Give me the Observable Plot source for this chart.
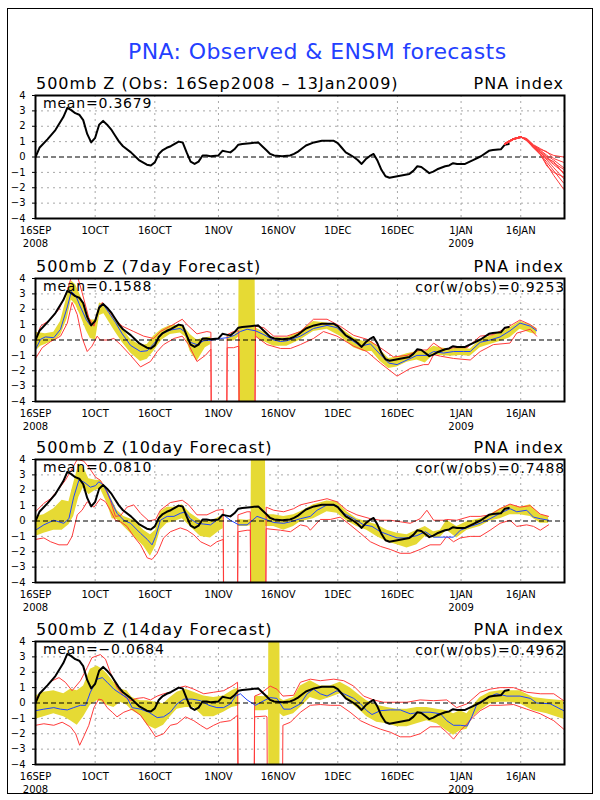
<!DOCTYPE html>
<html><head><meta charset="utf-8">
<script src="https://cdn.jsdelivr.net/npm/d3@7"></script>
<script src="https://cdn.jsdelivr.net/npm/@observablehq/plot@0.6"></script>
<style>
body{margin:0;background:#fff;}
#page{position:relative;width:600px;height:800px;overflow:hidden;font-family:"DejaVu Sans",sans-serif;background:#fff;}
#border{position:absolute;left:7px;top:8px;width:584px;height:784px;border:1px solid #000;}
.t{position:absolute;white-space:nowrap;line-height:1;color:#000;}
.pnl{position:absolute;left:0;}
</style></head><body><div id="page"><div id="border"></div></div>
<script>
// ---------------- data ----------------
const startUTC = Date.UTC(2008, 8, 16);           // 16 Sep 2008 = day 0
const domainDays = [0, 133];
const xTickDays = [0, 15, 30, 46, 61, 76, 91, 107, 122];
const xTickLabels = ["16SEP\n2008", "1OCT", "16OCT", "1NOV", "16NOV", "1DEC", "16DEC", "1JAN\n2009", "16JAN"];
const yTicks = [-4, -3, -2, -1, 0, 1, 2, 3, 4];

const panelTitles = ["500mb Z (Obs: 16Sep2008 \u2013 13Jan2009)", "500mb Z (7day Forecast)", "500mb Z (10day Forecast)", "500mb Z (14day Forecast)"];
const meanLabels = ["mean=0.3679", "mean=0.1588", "mean=0.0810", "mean=\u22120.0684"];
const corLabels = [null, "cor(w/obs)=0.9253", "cor(w/obs)=0.7488", "cor(w/obs)=0.4962"];

// observed PNA index [day, value]
const obs = [[0,0],[1,0.6],[3,1.15],[5,1.75],[7,2.6],[8,3.2],[9,3.05],[10,2.85],[11,2.75],[12,2.4],[13,1.5],[14,0.95],[15,1.25],[16,2.1],[17,2.35],[18,2.1],[19,1.8],[20,1.4],[21,1.0],[22,0.7],[24,0.3],[26,-0.2],[28,-0.5],[29,-0.55],[30,-0.35],[31,0.2],[32,0.45],[33,0.6],[34,0.7],[36,1.0],[37,0.95],[38,0.3],[39,-0.3],[40,-0.45],[41,-0.3],[42,0.1],[43,0.1],[44,0.05],[46,0.1],[47,0.4],[48,0.35],[49,0.3],[50,0.5],[51,0.8],[52,0.85],[54,0.9],[56,0.95],[57,0.7],[58,0.45],[59,0.2],[60,0.1],[62,0.05],[64,0.1],[65,0.2],[66,0.35],[67,0.55],[68,0.75],[70,0.95],[72,1.05],[75,1.05],[76,0.9],[77,0.6],[78,0.3],[79,0.15],[80,0],[81,-0.2],[82,-0.45],[83,-0.15],[84,0.05],[85,0.2],[86,-0.25],[87,-0.85],[88,-1.25],[89,-1.35],[90,-1.3],[92,-1.2],[94,-1.1],[95,-0.9],[96,-0.6],[97,-0.65],[98,-0.85],[99,-1.05],[100,-0.95],[101,-0.8],[102,-0.7],[103,-0.6],[104,-0.55],[105,-0.4],[106,-0.45],[108,-0.45],[110,-0.2],[112,0.05],[114,0.4],[115,0.45],[117,0.5],[118,0.8],[119,0.85]];

// ensemble members from 13 Jan (top panel)
const ensDays = [118, 120, 122, 123.5, 125.2, 126.9, 128.6, 130.3, 132.8];
const ensMembers = [
  [0.85,1.15,1.3,1.2,0.8,0.55,0.3,0.1,0.0],
  [0.85,1.15,1.3,1.2,0.75,0.5,0.35,-0.1,-0.35],
  [0.85,1.15,1.3,1.15,0.75,0.45,0.1,-0.2,-0.7],
  [0.85,1.15,1.3,1.15,0.7,0.4,0.0,-0.4,-0.8],
  [0.85,1.15,1.3,1.15,0.7,0.35,-0.1,-0.3,-1.1],
  [0.85,1.15,1.3,1.1,0.65,0.3,-0.2,-0.7,-1.4],
  [0.85,1.15,1.3,1.1,0.65,0.2,-0.35,-0.9,-1.7],
  [0.85,1.15,1.3,1.1,0.6,0.15,-0.5,-1.2,-2.1],
  [0.85,1.15,1.3,1.1,0.6,0.3,-0.1,-0.5,-1.0],
  [0.85,1.15,1.3,1.05,0.6,0.2,-0.6,-1.0,-1.3]
];

// 7-day forecast: ensemble mean, spread band [day, lo, hi], min / max  (±99 = missing)
const fc7Mean = [[0,-0.6],[1.3,0.05],[2.5,0.2],[4.6,0.15],[6.3,0.7],[8.0,2.15],[9.0,3.15],[10.1,2.9],[11.3,2.15],[12.8,1.3],[13.8,0.95],[15.1,1.25],[16.1,2.25],[17.2,2.25],[18.4,1.8],[20.1,1.15],[21.8,0.4],[23.9,-0.35],[26.4,-0.75],[28.1,-0.7],[29.7,-0.25],[31.8,0.4],[33.9,0.65],[36.4,0.75],[37.7,0.5],[38.9,-0.15],[40.6,-0.3],[42.3,-0.05],[44.4,0.0],[46.5,0.1],[48.2,0.15],[50,0.3],[51.5,0.55],[53.2,0.7],[55.3,0.6],[57.4,0.35],[59.9,0.0],[61.6,-0.1],[63.2,-0.05],[66.6,0.25],[69.9,0.75],[73.3,0.95],[75.8,0.8],[78.3,0.2],[81.7,-0.4],[84.2,-0.25],[86.7,-0.95],[88.8,-1.5],[90.9,-1.6],[93.4,-1.3],[95.9,-1.0],[98.4,-1.0],[100.1,-0.75],[102.6,-0.85],[105.1,-0.75],[107.6,-0.75],[109.3,-0.75],[111.8,-0.15],[114.3,0.0],[116.8,0.2],[119.3,0.6],[121.8,1.1],[124.4,0.9],[126.0,0.6]];
const fc7Band = [[0,-0.75,0.5],[1.3,-0.4,0.45],[2.5,-0.3,0.4],[4.6,-0.05,0.5],[6.3,0.3,1.2],[8.0,1.4,2.9],[9.0,2.6,3.85],[10.1,2.3,3.6],[11.3,1.6,2.9],[12.8,0.6,1.9],[13.8,0.1,1.3],[15.1,0.0,1.3],[16.1,1.6,2.4],[17.2,1.7,2.3],[18.4,1.2,1.95],[20.1,0.5,1.3],[21.8,-0.15,0.75],[23.9,-0.85,0.05],[26.4,-1.4,-0.35],[28.1,-1.25,-0.3],[29.7,-0.75,0.25],[31.8,0.0,0.7],[33.9,0.35,0.95],[36.4,0.45,0.95],[37.7,0.2,0.75],[38.9,-0.75,0.35],[40.6,-1.4,0.0],[42.7,-0.5,0.15],[44.1,-0.3,0.2],[46,-99,-99],[48.2,-0.1,0.25],[50,-0.05,0.3],[51.1,0.2,0.6],[53,-99,99],[55.3,0.25,0.8],[57.4,-0.1,0.5],[59.9,-0.4,0.15],[63.2,-0.4,0.15],[66.6,0.0,0.55],[69.9,0.55,1.2],[73.3,0.7,1.1],[76.6,0.25,0.8],[80.0,-0.5,0.15],[82.5,-0.75,-0.1],[84.6,-0.75,-0.1],[86.7,-1.4,-0.65],[88.8,-1.85,-1.2],[90.9,-1.75,-1.1],[93.4,-1.45,-0.9],[95.9,-1.3,-0.75],[98.0,-1.5,-0.75],[100.1,-0.95,-0.4],[101.8,-1.0,-0.5],[104.3,-1.05,-0.6],[106.8,-1.0,-0.5],[109.3,-1.05,-0.6],[111.8,-0.5,0.0],[114.3,-0.3,0.25],[116.8,-0.1,0.45],[119.3,0.15,0.8],[121.8,0.7,1.2],[124.4,0.45,1.0],[126.0,0.35,0.75]];
const fc7Max = [[0,0.0],[1.3,0.9],[3.8,1.35],[5.9,2.0],[8.0,3.2],[9.2,4.3],[10.5,4.2],[11.7,3.1],[13.4,1.45],[14.7,0.9],[15.9,2.0],[16.8,2.45],[18.0,2.1],[19.7,1.45],[21.8,0.9],[24.7,0.55],[27.2,0.25],[29.7,0.1],[31.4,0.55],[33.9,0.9],[36.9,1.35],[38.1,1.0],[40.6,0.4],[43.1,0.55],[44.1,0.5],[46,-99],[48.2,0.35],[49.8,0.55],[51.1,0.6],[53,-99],[55.3,0.9],[57.4,0.8],[59.9,0.25],[63.2,0.25],[66.6,0.55],[69.9,1.35],[73.3,1.35],[76.6,0.9],[80.0,0.3],[83.3,0.05],[86.7,-0.5],[90.0,-1.1],[93.4,-1.0],[96.7,-0.65],[98.4,-0.65],[100.1,-0.2],[102.6,-0.65],[105.1,-0.5],[108.5,-0.5],[111.8,0.25],[115.1,0.35],[118.5,0.8],[121.8,1.3],[124.4,1.0],[126.0,0.7]];
const fc7Min = [[0,-1.2],[1.7,-0.5],[3.8,-0.1],[6.3,0.25],[8.0,1.1],[9.2,2.45],[10.5,1.65],[11.7,0.15],[13.0,-0.75],[14.2,-0.4],[15.5,0.25],[16.3,0.0],[17.2,0.0],[18.4,0.0],[19.7,0.1],[21.4,-0.3],[23.9,-1.0],[26.4,-1.75],[28.9,-1.4],[30.6,-0.75],[32.2,-0.3],[34.8,0.1],[36.9,0.25],[38.5,-0.3],[40.6,-1.4],[42.7,-1.0],[44.1,-0.6],[46,-99],[48.2,-0.5],[49.8,-0.5],[51.1,-0.4],[53,-99],[55.3,0.25],[58.2,-0.3],[61.6,-0.55],[64.1,-0.55],[66.6,-0.3],[69.9,0.1],[72.4,0.55],[75.8,0.25],[80.0,-0.4],[83.3,-0.75],[86.7,-1.5],[90.9,-2.35],[94.2,-1.85],[97.6,-1.6],[98.8,-1.6],[100.1,-0.95],[101.8,-1.05],[105.1,-1.2],[109.3,-1.3],[111.8,-0.75],[115.1,-0.3],[119.3,-0.2],[121.0,0.45],[124.4,0.7],[126.0,0.25]];

// 10-day forecast
const fc10Mean = [[0,-0.6],[2.1,-0.25],[4.6,0.05],[7.1,-0.15],[8.4,0.15],[9.6,1.55],[10.9,2.65],[12.1,2.55],[13.8,2.2],[15.1,2.3],[15.9,2.55],[16.8,2.4],[18.0,1.9],[19.3,1.15],[20.5,0.5],[22.2,0.05],[23.9,-0.15],[26.4,-0.8],[28.1,-1.2],[29.3,-1.55],[30.2,-1.0],[31.4,0.05],[33.1,0.3],[34.8,0.3],[36.4,0.5],[37.7,0.6],[38.9,0.15],[40.6,-0.15],[42.3,-0.2],[44.0,-0.25],[45.6,0.05],[47.3,0.4],[49.0,0.05],[51.1,-0.25],[53.2,-0.25],[55.7,0.3],[57.4,0.15],[59.9,-0.1],[62.4,-0.15],[64.1,-0.05],[66.6,0.15],[69.1,0.3],[70.8,0.7],[73.3,1.05],[75.8,1.0],[77.5,0.5],[80.0,0.15],[82.5,-0.25],[84.6,-0.35],[86.7,-0.7],[88.8,-0.9],[90.9,-1.1],[93.4,-1.1],[95.9,-0.95],[98.0,-0.7],[100.1,-1.05],[102.6,-1.05],[105.1,-1.05],[106.8,-0.6],[109.3,-0.35],[111.8,-0.15],[114.3,0.15],[116.8,0.5],[119.3,0.8],[121.0,0.6],[123.5,0.7],[125.2,0.25],[126.9,0.15],[129.0,0.05]];
const fc10Band = [[0,-1.0,0.3],[2.1,-0.8,0.4],[4.6,-0.6,0.8],[6.7,-0.6,1.35],[8.4,-0.25,1.25],[9.6,0.3,2.45],[10.9,1.55,3.7],[12.1,2.2,3.5],[13.4,1.7,2.75],[15.1,2.0,2.65],[16.3,2.1,2.65],[18.0,1.15,2.1],[19.3,0.15,1.35],[20.5,0.1,0.7],[22.2,-0.35,0.3],[24.7,-1.0,0.05],[27.2,-1.65,-0.6],[28.9,-2.3,-0.9],[30.2,-1.65,-0.6],[31.4,-0.6,0.6],[33.1,-0.15,0.9],[34.8,-0.05,0.9],[36.9,0.15,1.05],[38.9,-0.35,0.5],[41.5,-1.0,0.05],[44.0,-1.1,-0.05],[46.5,-0.6,0.3],[47.2,-0.5,0.35],[49,-99,-99],[50.9,-0.35,0.1],[53.2,-0.35,0.05],[54.2,-0.3,0.1],[56,-99,99],[57.9,-0.35,0.4],[59.9,-0.35,0.4],[62.4,-0.6,0.3],[64.9,-0.35,0.4],[66.6,-0.05,0.6],[69.9,0.15,1.05],[73.3,0.6,1.3],[75.8,0.5,1.25],[78.3,0.0,0.6],[80.8,-0.35,0.15],[83.3,-0.6,-0.05],[85.8,-1.0,-0.25],[88.4,-1.35,-0.6],[90.9,-1.55,-0.8],[93.4,-1.75,-0.9],[95.9,-1.55,-0.6],[98.0,-1.0,-0.35],[100.1,-1.1,-0.7],[101.8,-1.05,-0.6],[103.4,-0.6,0.05],[105.9,-1.1,-0.35],[108.5,-0.6,-0.05],[111.8,-0.35,0.15],[114.3,0.0,0.4],[116.8,0.15,0.8],[119.3,0.4,1.05],[121.8,0.4,0.9],[124.4,0.3,1.05],[126.9,-0.15,0.4],[129.0,-0.15,0.3]];
const fc10Max = [[0,0.6],[2.1,1.15],[3.8,1.45],[5.9,2.1],[7.5,2.65],[9.2,3.4],[10.5,4.0],[12.1,3.9],[13.4,3.5],[15.1,2.85],[16.3,2.65],[17.6,2.1],[18.8,1.35],[20.1,0.3],[21.4,0.35],[23.0,0.9],[24.7,1.05],[26.4,0.5],[28.5,0.0],[30.2,0.1],[31.4,0.7],[33.9,1.2],[36.9,1.35],[38.5,1.05],[40.6,0.4],[43.1,0.4],[45.6,0.7],[47.2,0.75],[49,-99],[50.9,0.4],[53.2,0.6],[54.0,0.6],[56,-99],[58.0,0.9],[59.9,0.7],[62.4,0.6],[64.9,0.8],[66.6,1.05],[69.9,1.25],[73.3,1.45],[75.8,1.25],[78.3,0.7],[80.8,0.4],[84.2,0.15],[86.7,0.05],[89.2,0.05],[91.7,-0.05],[94.2,-0.15],[96.7,0.15],[98.4,0.7],[100.1,0.05],[102.6,0.05],[103.4,0.1],[105.9,0.05],[109.3,0.3],[111.8,0.3],[114.3,0.4],[116.8,0.8],[119.3,1.1],[121.8,0.9],[124.4,1.0],[126.9,0.45],[129.0,0.3]];
const fc10Min = [[0,-1.2],[2.1,-1.1],[3.8,-1.35],[5.9,-1.55],[8.0,-1.55],[9.2,-1.0],[10.5,0.4],[11.7,0.7],[13.0,1.25],[14.7,0.9],[16.3,1.45],[17.6,1.25],[18.8,0.7],[20.1,0.05],[21.4,-0.05],[23.0,-0.35],[24.7,-1.0],[26.4,-1.55],[28.1,-2.4],[29.3,-2.5],[30.6,-2.1],[32.2,-1.1],[33.9,-0.7],[36.4,-0.45],[38.1,-0.6],[39.8,-0.9],[41.5,-1.35],[44.0,-1.65],[45.6,-1.35],[47.2,-1.2],[49,-99],[50.9,-0.7],[53.2,-0.6],[54.0,-0.6],[56,-99],[58.0,-0.5],[61.6,-0.6],[64.1,-0.7],[66.6,-0.25],[68.3,-0.35],[69.1,-0.6],[71.6,0.1],[74.1,0.1],[76.6,0.25],[79.1,-0.25],[81.7,-0.8],[84.2,-1.35],[86.7,-1.65],[89.2,-1.85],[91.7,-2.1],[94.2,-2.1],[96.7,-1.85],[99.2,-1.55],[101.8,-1.55],[103.4,-1.0],[105.1,-1.35],[106.8,-1.1],[109.3,-1.0],[111.8,-1.0],[114.3,-0.6],[116.8,-0.15],[119.3,0.05],[121.0,-0.35],[123.5,-0.25],[125.2,-0.35],[126.9,-0.6],[129.0,-0.25]];

// 14-day forecast
const fc14Mean = [[0,-0.5],[2.1,-0.4],[4.6,-0.3],[6.3,-0.4],[8.0,-0.45],[9.6,-0.3],[11.3,-0.15],[12.6,-0.15],[13.8,0.7],[15.5,1.55],[16.8,1.65],[18.0,1.35],[19.7,0.9],[21.4,0.6],[23.0,0.35],[24.3,-0.3],[26.4,-0.4],[28.5,-0.6],[30.6,-0.95],[32.2,-0.9],[33.9,-0.6],[35.6,-0.05],[37.3,0.25],[39.4,0.25],[41.5,0.15],[43.6,-0.15],[45.6,-0.3],[47.3,-0.3],[49.0,-0.05],[50.3,0.45],[51.5,0.6],[53.2,0.2],[55.3,-0.15],[57.4,0.15],[59.0,0.35],[60.7,0.3],[62.4,-0.4],[64.1,-0.4],[66.6,-0.05],[68.3,0.6],[69.9,0.9],[71.6,0.6],[73.3,0.45],[75.8,0.8],[77.5,0.6],[80.0,0.3],[81.7,-0.05],[83.3,-0.5],[84.6,-0.75],[86.7,-0.5],[89.2,-0.45],[91.7,-0.45],[94.2,-0.7],[96.7,-0.6],[99.2,-0.6],[101.8,-0.7],[103.4,-1.15],[105.1,-1.45],[106.8,-1.45],[108.5,-1.5],[109.7,-0.9],[111.0,-0.05],[113.5,0.35],[115.9,0.6],[118.5,0.45],[121.8,0.45],[124.4,0.3],[126.0,0.0],[129.4,-0.05],[132.8,-0.5]];
const fc14Band = [[0,-1.05,0.45],[2.1,-0.9,0.7],[4.6,-0.7,0.8],[7.1,-0.9,0.6],[8.8,-1.15,0.9],[10.5,-1.45,0.8],[12.1,-0.9,1.1],[13.8,-0.15,2.2],[15.5,0.15,2.4],[16.8,0.05,2.2],[18.0,-0.15,1.9],[19.7,-0.3,1.35],[21.4,0.05,0.9],[23.0,-0.15,0.8],[24.3,-0.5,0.35],[26.4,-0.8,0.15],[28.1,-1.45,0.15],[30.2,-1.7,0.05],[32.2,-1.45,-0.05],[33.9,-0.9,0.35],[35.6,-0.4,0.7],[37.7,-0.3,0.9],[39.8,-0.3,0.7],[42.3,-0.9,0.45],[44.8,-0.9,0.35],[47.3,-0.6,0.45],[49.4,-0.3,0.8],[51.1,-0.2,1.0],[53,-99,-99],[55.3,-0.5,0.45],[57.4,-0.5,0.4],[58.6,-0.45,0.5],[60,-99,99],[61.5,-0.7,0.3],[62.4,-0.9,0.15],[64.9,-0.7,0.35],[66.6,-0.3,1.1],[69.1,0.35,1.45],[71.6,0.15,1.1],[74.1,0.35,1.1],[76.6,0.6,1.35],[79.1,0.05,1.0],[81.7,-0.5,0.45],[83.3,-0.9,0.15],[85.8,-1.25,-0.15],[88.4,-1.35,-0.3],[90.9,-1.55,-0.4],[93.4,-1.55,-0.4],[95.9,-1.35,-0.3],[98.4,-1.15,-0.3],[100.9,-1.35,-0.4],[103.4,-1.8,-0.5],[105.1,-2.1,-0.7],[106.8,-1.8,-0.5],[108.5,-1.7,-0.7],[110.1,-0.9,-0.15],[111.8,-0.5,0.35],[114.3,-0.05,0.7],[116.8,0.05,0.8],[119.3,0.05,0.8],[121.8,-0.05,0.8],[125.2,-0.5,0.35],[128.6,-0.7,0.25],[132.8,-1.05,0.15]];
const fc14Max = [[0,0.25],[2.1,0.9],[4.2,1.45],[5.9,1.65],[7.5,1.35],[9.2,0.8],[11.3,1.45],[13.0,2.3],[14.2,2.95],[16.3,3.15],[17.6,2.85],[18.8,2.0],[20.5,1.0],[22.2,0.45],[23.9,0.15],[25.5,0.3],[27.2,0.35],[28.9,0.2],[30.6,0.45],[32.2,0.6],[33.9,0.7],[36.0,1.0],[37.7,1.1],[39.8,0.9],[42.3,0.6],[44.8,0.7],[47.3,0.8],[49.4,1.1],[50.8,1.35],[53,-99],[55.1,0.45],[56.5,0.6],[59.0,1.1],[60.7,0.9],[62.2,0.45],[64.9,0.5],[66.6,1.35],[69.1,1.55],[71.6,1.45],[75.0,1.55],[77.5,1.45],[80.0,1.1],[82.5,0.45],[85.0,0.2],[87.5,0.05],[90.9,0.05],[93.4,0.05],[96.7,0.2],[100.1,0.15],[103.4,0.2],[105.9,-0.3],[108.5,-0.05],[111.8,0.7],[114.3,0.9],[116.8,1.0],[120.2,1.0],[123.5,0.7],[126.9,0.6],[130.3,0.6],[132.8,0.15]];
const fc14Min = [[0,-1.45],[2.1,-1.35],[4.6,-1.45],[6.7,-1.25],[8.8,-1.55],[10.1,-2.0],[11.1,-2.75],[12.1,-2.2],[13.4,-1.45],[14.7,-0.3],[15.9,0.25],[16.8,0.2],[18.0,-0.3],[19.3,-0.6],[20.5,-0.9],[22.2,-0.6],[24.3,-0.4],[26.4,-0.8],[28.5,-1.55],[30.2,-2.2],[32.2,-2.0],[33.9,-1.45],[35.6,-1.35],[37.7,-0.9],[39.8,-1.15],[41.5,-1.45],[43.1,-1.7],[44.8,-1.45],[46.5,-1.25],[49.0,-1.15],[50.8,-0.8],[53,-99],[55.1,-0.9],[57.8,-0.85],[58.2,-0.9],[60,-99],[62.2,-1.45],[64.1,-1.25],[66.6,-0.6],[69.1,-0.15],[71.6,-0.1],[74.1,-0.15],[76.6,-0.15],[79.1,-0.6],[81.7,-1.15],[84.2,-1.45],[86.7,-1.7],[89.2,-1.9],[91.7,-2.2],[94.2,-2.2],[96.7,-2.0],[99.2,-1.55],[101.8,-1.55],[103.4,-1.9],[105.1,-2.35],[106.8,-1.8],[108.5,-1.35],[110.1,-0.9],[111.8,-0.5],[114.3,-0.15],[116.8,-0.15],[120.2,-0.1],[123.5,-0.4],[126.9,-0.7],[130.3,-1.15],[132.8,-1.7]];

// ---------------- drawing ----------------
const YELLOW = "#e6da34", RED = "#ff3b3b", BLUE = "#1f44ff", GRID = "#a8a8a8";
const day = d => new Date(startUTC + d * 864e5);
const frameTops = [94.5, 277.5, 459, 640.5];
const frameH = 123, MT = 20, MB = 35;
const page = document.getElementById("page");

function addText(str, x, baseline, size, spacing, anchor, color) {
  const el = document.createElement("div");
  el.className = "t";
  el.textContent = str;
  el.style.fontSize = size + "px";
  el.style.letterSpacing = spacing + "px";
  el.style.top = (baseline - 0.846 * size) + "px";
  if (color) el.style.color = color;
  if (anchor === "end") el.style.right = (600 - x) + "px"; else el.style.left = x + "px";
  page.appendChild(el);
}

function panel(i, fc) {
  const marks = [
    Plot.ruleY(yTicks.filter(v => v !== 0), {y: v => v, stroke: GRID, strokeDasharray: "2,4"}),
    Plot.ruleX(xTickDays, {x: d => day(d), stroke: GRID, strokeDasharray: "2,4"})
  ];
  if (fc) {
    marks.push(Plot.areaY(fc.band, {x: d => day(d[0]), y1: d => d[1], y2: d => d[2], fill: YELLOW, clip: true}));
    marks.push(Plot.line(fc.max, {x: d => day(d[0]), y: d => d[1], stroke: RED, strokeWidth: 1, clip: true}));
    marks.push(Plot.line(fc.min, {x: d => day(d[0]), y: d => d[1], stroke: RED, strokeWidth: 1, clip: true}));
    marks.push(Plot.line(fc.mean, {x: d => day(d[0]), y: d => d[1], stroke: BLUE, strokeWidth: 1, clip: true}));
  }
  marks.push(Plot.ruleY([0], {stroke: "black", strokeDasharray: "5,3", strokeWidth: 1}));
  if (!fc) {
    const ens = ensMembers.flatMap((m, k) => m.map((v, j) => ({d: ensDays[j], v, k})));
    marks.push(Plot.line(ens, {x: r => day(r.d), y: r => r.v, z: r => r.k, stroke: RED, strokeWidth: 1, clip: true}));
  }
  marks.push(Plot.line(obs, {x: d => day(d[0]), y: d => d[1], stroke: "black", strokeWidth: 2, clip: true}));
  if (!fc) {
    const ensHead = ensMembers.flatMap((m, k) => m.slice(0, 3).map((v, j) => ({d: ensDays[j], v, k})));
    marks.push(Plot.line(ensHead, {x: r => day(r.d), y: r => r.v, z: r => r.k, stroke: RED, strokeWidth: 1.5, clip: true}));
  }
  marks.push(Plot.text(xTickDays, {
    x: d => day(d), text: (d, j) => xTickLabels[j], frameAnchor: "bottom", lineAnchor: "top",
    dy: 6, fontSize: 10, lineHeight: 1.3, fontFamily: "'DejaVu Sans',sans-serif"
  }));
  marks.push(Plot.frame({stroke: "black", strokeWidth: 2}));

  const svg = Plot.plot({
    width: 600, height: MT + frameH + MB,
    marginLeft: 35, marginRight: 36, marginTop: MT, marginBottom: MB,
    x: {type: "utc", domain: domainDays.map(day), axis: null},
    y: {domain: [-4, 4], ticks: yTicks, tickSize: 3, tickPadding: 7, label: null},
    style: {background: "transparent", overflow: "visible", fontFamily: "'DejaVu Sans',sans-serif", fontSize: "10px"},
    marks
  });
  svg.classList.add("pnl");
  svg.style.position = "absolute";
  svg.style.top = (frameTops[i] - MT) + "px";
  svg.style.left = "0px";
  page.appendChild(svg);

  const top = frameTops[i];
  addText(panelTitles[i], 36, top - 5, 16, 1.0, "start");
  addText("PNA index", 564, top - 5, 16, 1.0, "end");
  addText(meanLabels[i], 43, top + 13, 14, 0.8, "start");
  if (corLabels[i]) addText(corLabels[i], 565, top + 14, 14, 0.9, "end");
}

addText("PNA: Observed & ENSM forecasts", 128, 60, 22, 0.4, "start", "#2340ff");
panel(0, null);
panel(1, {mean: fc7Mean, band: fc7Band, max: fc7Max, min: fc7Min});
panel(2, {mean: fc10Mean, band: fc10Band, max: fc10Max, min: fc10Min});
panel(3, {mean: fc14Mean, band: fc14Band, max: fc14Max, min: fc14Min});
</script>
</body></html>
